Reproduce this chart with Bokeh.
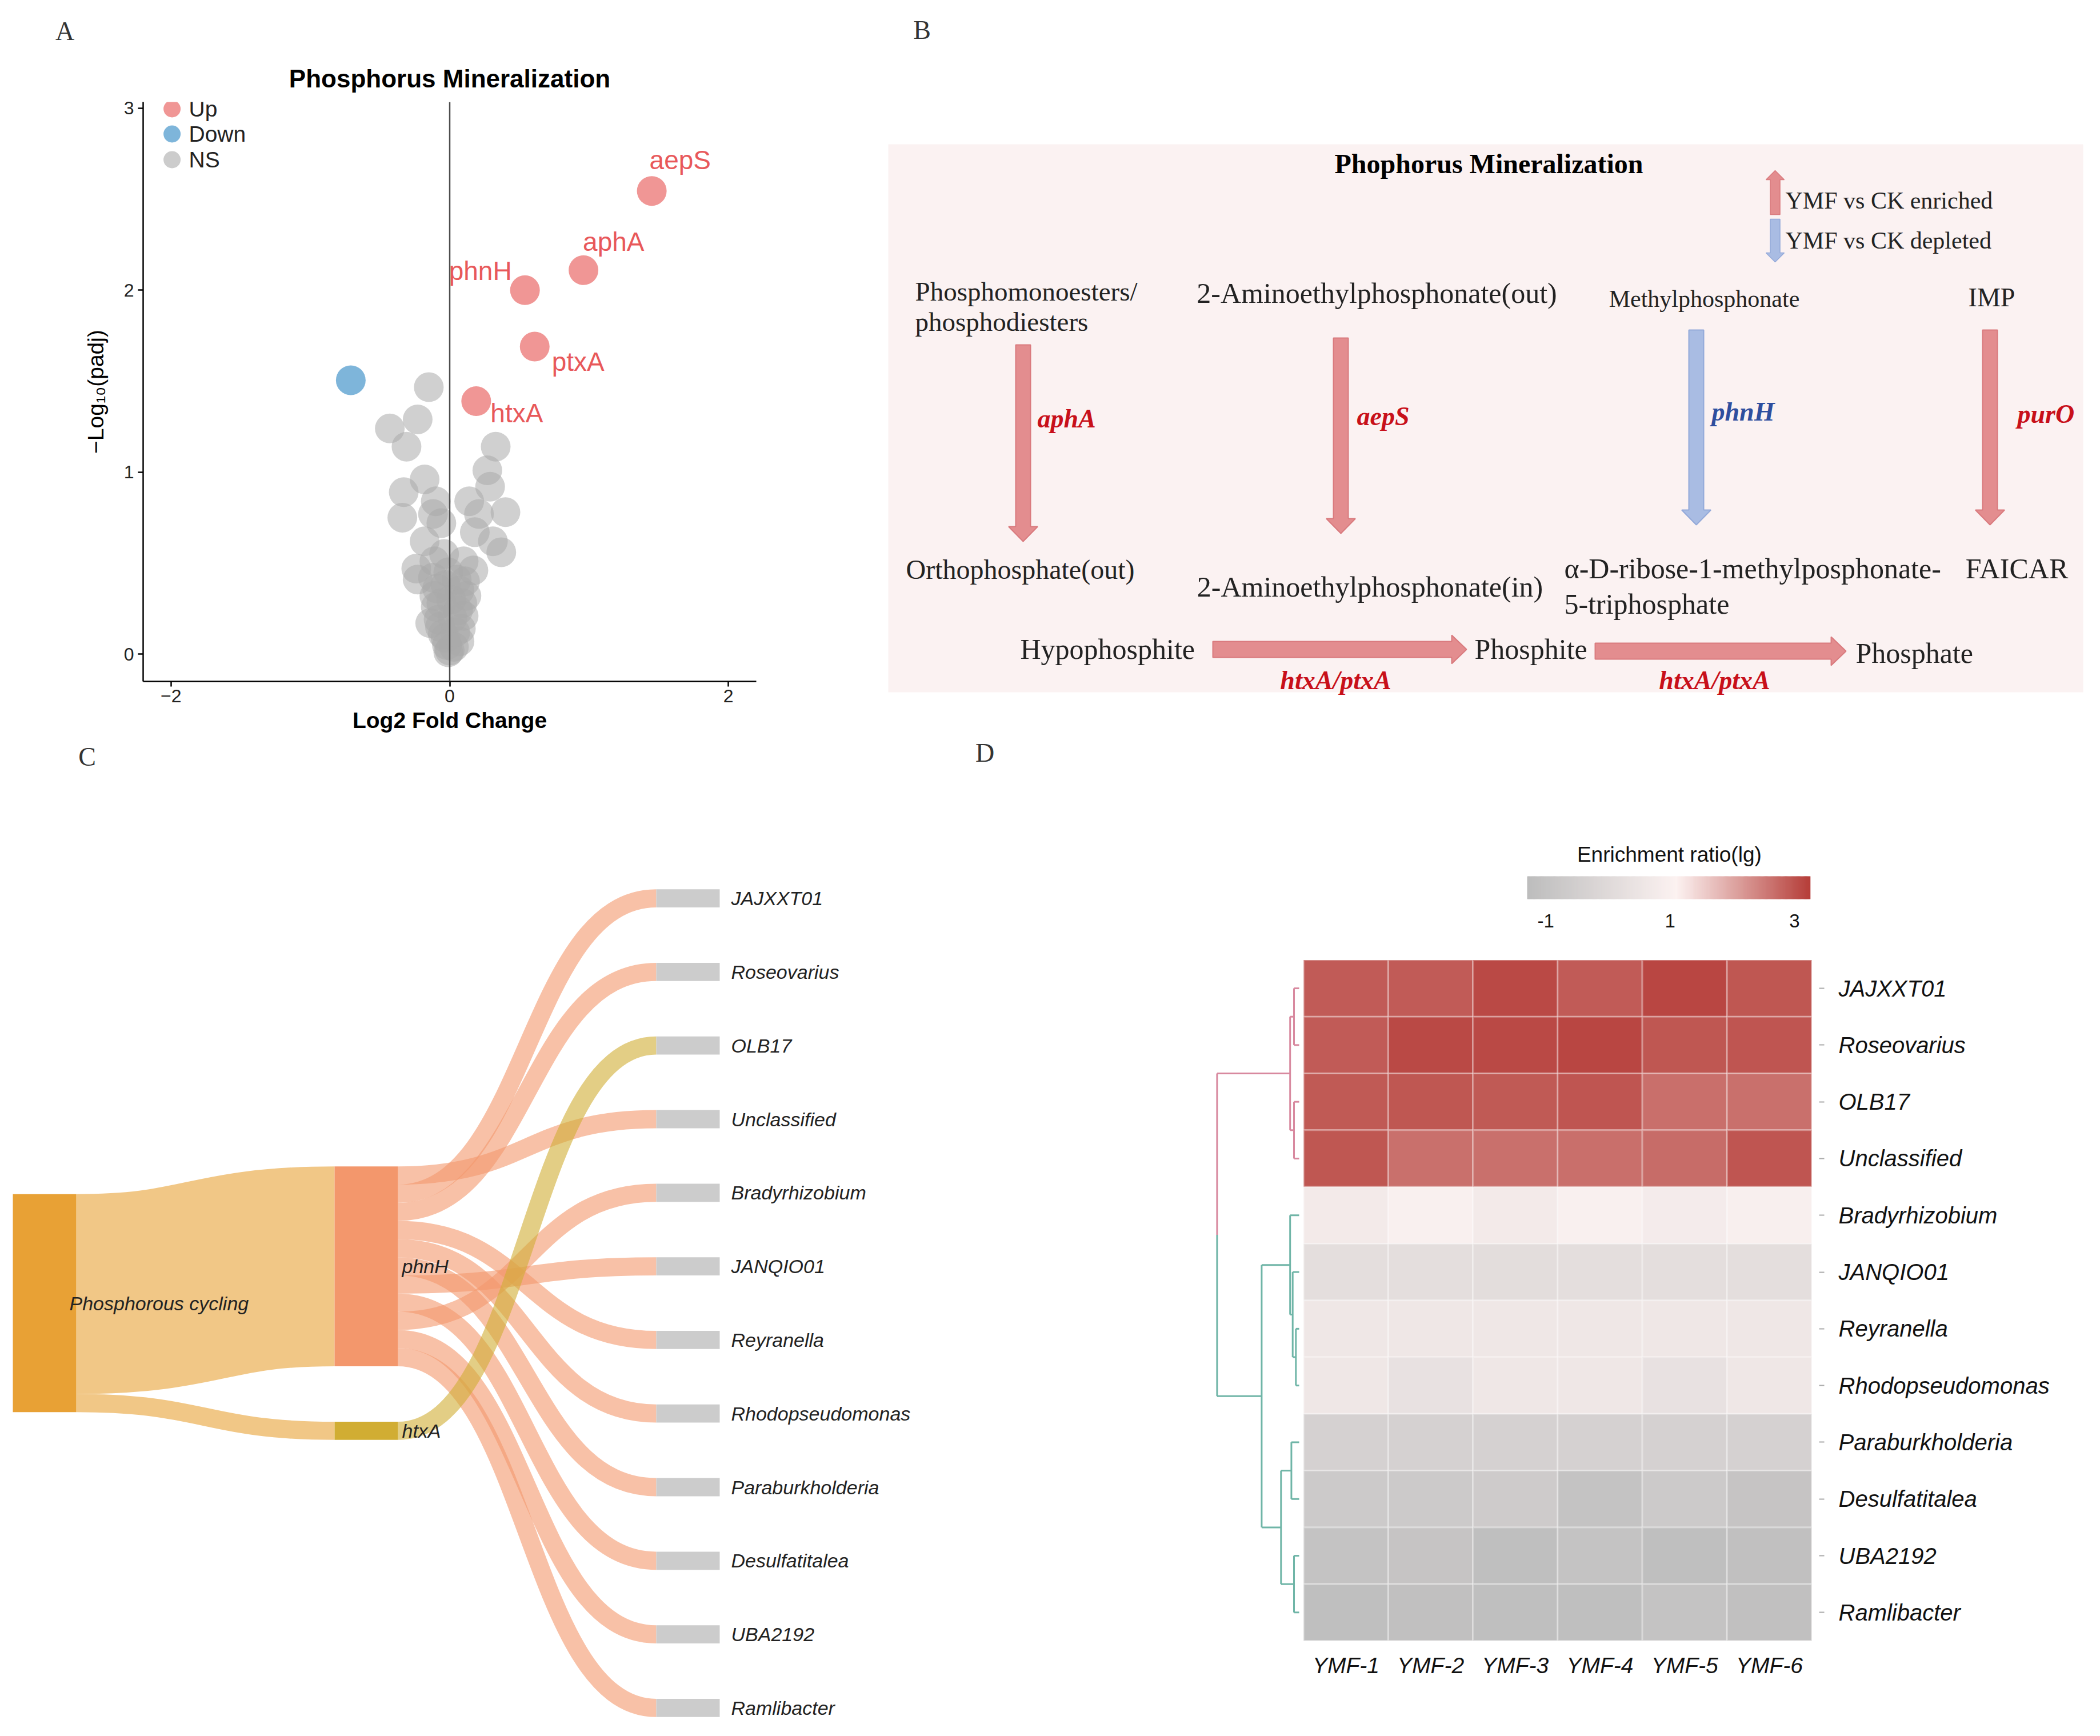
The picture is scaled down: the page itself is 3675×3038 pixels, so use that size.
import numpy as np
from collections import defaultdict
from bokeh.plotting import figure
from bokeh.models import Range1d, FixedTicker, Span, ColumnDataSource, LinearColorMapper
from bokeh.layouts import row, column
from bokeh.embed import file_html
from bokeh.resources import INLINE
from bokeh.core.properties import value
from bokeh.transform import transform

# ============================ DATA ============================
# ---- Panel A: volcano plot ----
up_genes = ["aepS", "aphA", "phnH", "ptxA", "htxA"]
up_log2fc = [1.45, 0.96, 0.54, 0.61, 0.19]
up_neglog_padj = [2.545, 2.11, 2.00, 1.69, 1.39]
down_log2fc = [-0.71]
down_neglog_padj = [1.505]
ns_log2fc = [-0.15, -0.23, -0.43, -0.31, 0.33, 0.27, 0.29, -0.18, -0.33, -0.10,
             0.14, -0.34, 0.40, -0.12, -0.06, 0.21, 0.18, -0.18, 0.31, 0.37,
             -0.24, 0.17, -0.23, -0.11, -0.04, 0.10, -0.12, -0.01, 0.07, 0.12,
             -0.11, -0.08, 0.10, -0.10, 0.08, -0.03, 0.03, -0.01, 0.07, -0.05,
             0.01, -0.03, 0.05, -0.07, 0.06, -0.14, 0.00, -0.02, 0.04, -0.06,
             0.09, 0.02, -0.09, 0.11]
ns_neglog_padj = [1.467, 1.29, 1.24, 1.14, 1.14, 1.01, 0.92, 0.96, 0.89, 0.84,
                  0.84, 0.75, 0.78, 0.77, 0.72, 0.77, 0.67, 0.62, 0.62, 0.56,
                  0.47, 0.46, 0.41, 0.51, 0.55, 0.51, 0.42, 0.45, 0.35, 0.32,
                  0.32, 0.19, 0.21, 0.26, 0.14, 0.09, 0.04, 0.01, 0.07, 0.11,
                  0.30, 0.38, 0.41, 0.15, 0.24, 0.17, 0.02, 0.05, 0.12, 0.28,
                  0.28, 0.20, 0.36, 0.40]
volcano_xticks = [-2, 0, 2]
volcano_yticks = [0, 1, 2, 3]
volcano_groups = ["Up", "Down", "NS"]
volcano_title = "Phosphorus Mineralization"

# ---- Panel B: pathway diagram ----
pathway_title = "Phophorus Mineralization"
legend_labels = ["YMF vs CK enriched", "YMF vs CK depleted"]
substrates = [["Phosphomonoesters/", "phosphodiesters"], ["2-Aminoethylphosphonate(out)"],
              ["Methylphosphonate"], ["IMP"]]
products = [["Orthophosphate(out)"], ["2-Aminoethylphosphonate(in)"],
            ["\u03b1-D-ribose-1-methylposphonate-", "5-triphosphate"], ["FAICAR"]]
step_genes = ["aphA", "aepS", "phnH", "purO"]
step_change = ["enriched", "enriched", "depleted", "enriched"]
oxidation_chain = ["Hypophosphite", "Phosphite", "Phosphate"]
oxidation_genes = ["htxA/ptxA", "htxA/ptxA"]

# ---- Panel C: sankey ----
sankey_source = ["Phosphorous cycling", "Phosphorous cycling",
                 "phnH", "phnH", "phnH", "phnH", "phnH", "phnH",
                 "phnH", "phnH", "phnH", "phnH", "phnH", "htxA"]
sankey_target = ["phnH", "htxA",
                 "Unclassified", "JAJXXT01", "Roseovarius", "Reyranella", "Rhodopseudomonas",
                 "Paraburkholderia", "JANQIO01", "Desulfatitalea", "Bradyrhizobium",
                 "UBA2192", "Ramlibacter", "OLB17"]
sankey_value = [11, 1, 1, 1, 1, 1, 1, 1, 1, 1, 1, 1, 1, 1]

# ---- Panel D: heatmap ----
taxa = ["JAJXXT01", "Roseovarius", "OLB17", "Unclassified", "Bradyrhizobium", "JANQIO01",
        "Reyranella", "Rhodopseudomonas", "Paraburkholderia", "Desulfatitalea", "UBA2192",
        "Ramlibacter"]
samples = ["YMF-1", "YMF-2", "YMF-3", "YMF-4", "YMF-5", "YMF-6"]
ymf1 = [2.90, 2.90, 2.92, 2.95, 0.75, 0.20, 0.60, 0.60, -0.38, -0.70, -1.00, -1.20]
ymf2 = [2.90, 3.12, 2.95, 2.65, 1.00, 0.20, 0.60, 0.35, -0.38, -0.70, -0.95, -1.15]
ymf3 = [3.12, 3.12, 2.92, 2.65, 0.75, 0.15, 0.60, 0.60, -0.38, -0.65, -1.20, -1.20]
ymf4 = [2.90, 3.15, 2.98, 2.68, 1.00, 0.20, 0.60, 0.60, -0.38, -1.00, -1.00, -1.20]
ymf5 = [3.15, 2.95, 2.68, 2.70, 0.80, 0.20, 0.60, 0.35, -0.38, -0.70, -1.20, -1.00]
ymf6 = [2.95, 2.98, 2.65, 2.98, 0.95, 0.20, 0.60, 0.60, -0.38, -0.95, -1.15, -1.15]
heat_columns = [ymf1, ymf2, ymf3, ymf4, ymf5, ymf6]
# hierarchical clustering of rows: (left, right, merge height)
dendro_merges = [("JAJXXT01", "Roseovarius", 0.90), ("OLB17", "Unclassified", 0.90),
                 ("c0", "c1", 1.58), ("Reyranella", "Rhodopseudomonas", 0.57),
                 ("JANQIO01", "c3", 1.13), ("Bradyrhizobium", "c4", 1.58),
                 ("Paraburkholderia", "Desulfatitalea", 1.36), ("UBA2192", "Ramlibacter", 0.90),
                 ("c6", "c7", 3.17), ("c5", "c8", 6.56), ("c2", "c9", 14.36)]
colorbar_ticks = [-1, 1, 3]
colorbar_title = "Enrichment  ratio(lg)"

# ============================ LAYOUT / STYLE ============================
OX, OY = 0, 0
W_A, W_B, H_TOP = 1545, 2114, 1290
W_C, W_D, H_BOT = 1700, 1959, 1732
SANS, SERIF = "Liberation Sans", "Liberation Serif"
INK = "#222222"


def fig(w, h, xr, yr, **kw):
    p = figure(width=w, height=h, x_range=xr, y_range=yr, output_backend="svg",
               toolbar_location=None, **kw)
    p.outline_line_color = None
    p.xgrid.visible = False
    p.ygrid.visible = False
    p.background_fill_color = "white"
    p.border_fill_color = "white"
    try:
        p.frame_align = False
    except Exception:
        pass
    return p


def txt(p, x, y, s, size, font=SANS, style="normal", color=INK, align="left"):
    p.text(x=[x], y=[y], text=[s], text_font=value(font), text_font_size=f"{size}px",
           text_font_style=style, text_color=color, text_align=align, text_baseline="middle")


# ---------------------------- Panel A ----------------------------
HA_H = 165
hA = fig(W_A, HA_H, Range1d(OX, OX + W_A), Range1d(OY + HA_H, OY),
         x_axis_location=None, y_axis_location=None, min_border=0)

A_FL, A_FR, A_FT, A_FB = 250, 1323, 178, 1192   # frame edges (page px)
A_L = A_FL - OX
A_R = OX + W_A - A_FR
A_T = A_FT - (OY + HA_H)
A_B = OY + H_TOP - A_FB
XA = (-2.2, 2.2)
YA = (-0.15, 3.034)
pA = fig(W_A, H_TOP - HA_H, Range1d(*XA), Range1d(*YA), min_border_left=A_L, min_border_right=A_R,
         min_border_top=A_T, min_border_bottom=A_B)
SXA = (A_FR - A_FL) / (XA[1] - XA[0])
SYA = (A_FB - A_FT) / (YA[1] - YA[0])


def ax_(px):
    return XA[0] + (px - A_FL) / SXA


def ay_(py):
    return YA[1] - (py - A_FT) / SYA


pA.xaxis.ticker = FixedTicker(ticks=volcano_xticks)
pA.xaxis.major_label_overrides = {t: (str(t) if t >= 0 else "\u2212" + str(-t)) for t in volcano_xticks}
pA.yaxis.ticker = FixedTicker(ticks=volcano_yticks)
for axis in (pA.xaxis[0], pA.yaxis[0]):
    axis.axis_line_color = "black"
    axis.axis_line_width = 2.5
    axis.major_tick_line_color = "black"
    axis.major_tick_line_width = 2.5
    axis.major_tick_out = 9
    axis.major_tick_in = 0
    axis.minor_tick_line_color = None
    axis.major_label_text_font = SANS
    axis.major_label_text_font_size = "32px"
    axis.major_label_text_color = INK
    axis.axis_label_text_font = SANS
    axis.axis_label_text_font_size = "39px"
    axis.axis_label_text_color = "black"
pA.xaxis.axis_label = "Log2 Fold Change"
pA.xaxis.axis_label_text_font_style = "bold"
pA.xaxis.major_label_standoff = 5
pA.xaxis.axis_label_standoff = 7
pA.yaxis.axis_label = "\u2212Log\u2081\u2080(padj)"
pA.yaxis.axis_label_text_font_style = "normal"
pA.yaxis.major_label_standoff = 7
pA.yaxis.axis_label_standoff = 25

pA.add_layout(Span(location=0, dimension="height", line_color="#4D4D4D", line_width=2.5))
pA.scatter(ns_log2fc, ns_neglog_padj, size=52, fill_color="#A9A9A9", fill_alpha=0.55, line_color=None)
pA.scatter(up_log2fc, up_neglog_padj, size=52, fill_color="#F09695", line_color=None)
pA.scatter(down_log2fc, down_neglog_padj, size=52, fill_color="#7EB5DA", line_color=None)

label_offsets_px = {"aepS": (-4, -54), "aphA": (-1, -50), "phnH": (-133, -34),
                    "ptxA": (30, 26), "htxA": (25, 21)}
lab_x = [x + label_offsets_px[g][0] / SXA for g, x in zip(up_genes, up_log2fc)]
lab_y = [y - label_offsets_px[g][1] / SYA for g, y in zip(up_genes, up_neglog_padj)]
pA.text(x=lab_x, y=lab_y, text=up_genes, text_font=value(SANS), text_font_size="46px",
        text_color="#E8585A", text_align="left", text_baseline="middle")

leg_y = [ay_(py) for py in (190, 234, 279)]
pA.scatter([ax_(300.6)] * 3, leg_y, size=30, fill_color=["#F09695", "#7EB5DA", "#CCCCCC"], line_color=None)
pA.text(x=[ax_(330)] * 3, y=leg_y, text=volcano_groups, text_font=value(SANS), text_font_size="39px",
        text_color=INK, text_align="left", text_baseline="middle")

txt(hA, 113, 54, "A", 46, font=SERIF, color="#333333", align="center")
txt(hA, (A_FL + A_FR) / 2, 137, volcano_title, 44, style="bold", color="black", align="center")

# ---------------------------- Panel B ----------------------------
xB0 = OX + W_A
pB = fig(W_B, H_TOP, Range1d(xB0, xB0 + W_B), Range1d(OY + H_TOP, OY),
         x_axis_location=None, y_axis_location=None, min_border=0)
pB.quad(left=[1554], right=[3645], top=[252], bottom=[1211], fill_color="#FBF2F2", line_color=None)

RED_FILL, RED_LINE = "#E38D8F", "#D97A7E"
BLUE_FILL, BLUE_LINE = "#A9BCE3", "#93A9D9"
GENE_RED, GENE_BLUE = "#C8101A", "#2E4E9E"


def v_arrow(x, y0, y1, sw, hw, hl):
    d = 1 if y1 > y0 else -1
    yb = y1 - d * hl
    return ([x - sw / 2, x + sw / 2, x + sw / 2, x + hw / 2, x, x - hw / 2, x - sw / 2],
            [y0, y0, yb, yb, y1, yb, yb])


def h_arrow(x0, x1, y, sw, hw, hl):
    xb = x1 - hl
    return ([x0, xb, xb, x1, xb, xb, x0],
            [y - sw / 2, y - sw / 2, y - hw / 2, y, y + hw / 2, y + sw / 2, y + sw / 2])


txt(pB, 1613, 52, "B", 46, font=SERIF, color="#333333", align="center")
txt(pB, 2605, 286, pathway_title, 48, font=SERIF, style="bold", color="black", align="center")

lx, ly = v_arrow(3106, 375, 298, 17, 32, 16)
pB.patch(lx, ly, fill_color=RED_FILL, line_color=RED_LINE, line_width=1.5)
lx, ly = v_arrow(3106, 383, 458, 17, 32, 16)
pB.patch(lx, ly, fill_color=BLUE_FILL, line_color=BLUE_LINE, line_width=1.5)
txt(pB, 3124, 350, legend_labels[0], 42, font=SERIF)
txt(pB, 3124, 420, legend_labels[1], 42, font=SERIF)

sub_pos = [(1601, "left", [509, 562], 47), (2409, "center", [512], 50),
           (2982, "center", [522], 42), (3485, "center", [520], 46)]
prod_pos = [(1785, "center", [996], 48), (2397, "center", [1026], 50),
            (2737, "left", [994, 1056], 50), (3529, "center", [994], 50)]
arrow_pos = [(1790, 603, 947), (2346, 591, 933), (2968, 577, 918), (3482, 577, 918)]
gene_pos = [(1815, 732), (2374, 728), (2995, 720), (3530, 724)]

for lines, (x, al, ys, fs) in zip(substrates, sub_pos):
    for s, y in zip(lines, ys):
        txt(pB, x, y, s, fs, font=SERIF, align=al)
for lines, (x, al, ys, fs) in zip(products, prod_pos):
    for s, y in zip(lines, ys):
        txt(pB, x, y, s, fs, font=SERIF, align=al)
for g, ch, (x, y0, y1), (gx, gy) in zip(step_genes, step_change, arrow_pos, gene_pos):
    axs, ays = v_arrow(x, y0, y1, 26, 51, 26)
    up = ch == "enriched"
    pB.patch(axs, ays, fill_color=RED_FILL if up else BLUE_FILL,
             line_color=RED_LINE if up else BLUE_LINE, line_width=2)
    txt(pB, gx, gy, g, 46, font=SERIF, style="bold italic", color=GENE_RED if up else GENE_BLUE)

chain_pos = [(1785, 1135), (2580, 1135), (3247, 1142)]
chain_arrows = [(2122, 2566, 1136), (2791, 3230, 1139)]
chain_gene_pos = [(2337, 1190), (3000, 1190)]
for s, (x, y) in zip(oxidation_chain, chain_pos):
    txt(pB, x, y, s, 50, font=SERIF)
for g, (x0, x1, y), (gx, gy) in zip(oxidation_genes, chain_arrows, chain_gene_pos):
    axs, ays = h_arrow(x0, x1, y, 28, 50, 26)
    pB.patch(axs, ays, fill_color=RED_FILL, line_color=RED_LINE, line_width=2)
    txt(pB, gx, gy, g, 46, font=SERIF, style="bold italic", color=GENE_RED, align="center")

# ---------------------------- Panel C ----------------------------
yC0 = OY + H_TOP
pC = fig(W_C, H_BOT, Range1d(OX, OX + W_C), Range1d(yC0 + H_BOT, yC0),
         x_axis_location=None, y_axis_location=None, min_border=0)
txt(pC, 152, 1324, "C", 46, font=SERIF, color="#333333", align="center")

node_color = {"Phosphorous cycling": "#E8A135", "phnH": "#F3976C", "htxA": "#D1AD33"}
inflow, outflow = defaultdict(float), defaultdict(float)
for s, t, v in zip(sankey_source, sankey_target, sankey_value):
    outflow[s] += v
    inflow[t] += v
cols = [["Phosphorous cycling"], ["phnH", "htxA"], taxa]
K, PAD, CY, NW = 31.8, 97, 2280, 111
COL_X = [22, 585, 1148]
LABEL_DX = [-12, 7, 20]
pos = {}
for ci, col in enumerate(cols):
    vals = [max(inflow[n], outflow[n]) for n in col]
    total = sum(vals) * K + (len(col) - 1) * PAD
    y = CY - total / 2
    for n, v in zip(col, vals):
        pos[n] = (ci, COL_X[ci], y, y + v * K)
        y += v * K + PAD

s_off, t_off = defaultdict(float), defaultdict(float)
lk = dict(x0=[], y0=[], x1=[], y1=[], cx0=[], cy0=[], cx1=[], cy1=[], w=[], c=[])
for s, t, v in zip(sankey_source, sankey_target, sankey_value):
    w = v * K
    x0 = pos[s][1] + NW
    x1 = pos[t][1]
    y0 = pos[s][2] + s_off[s] + w / 2
    y1 = pos[t][2] + t_off[t] + w / 2
    s_off[s] += w
    t_off[t] += w
    xm = (x0 + x1) / 2
    for key, val in zip(["x0", "y0", "x1", "y1", "cx0", "cy0", "cx1", "cy1", "w", "c"],
                        [x0, y0, x1, y1, xm, y0, xm, y1, w, node_color[s]]):
        lk[key].append(val)
pC.bezier(x0="x0", y0="y0", x1="x1", y1="y1", cx0="cx0", cy0="cy0", cx1="cx1", cy1="cy1",
          line_width="w", line_color="c", line_alpha=0.6, source=ColumnDataSource(lk))

nd = dict(l=[], r=[], t=[], b=[], c=[], lx=[], ly=[], name=[])
for n, (ci, x, y0, y1) in pos.items():
    nd["l"].append(x)
    nd["r"].append(x + NW)
    nd["t"].append(y0)
    nd["b"].append(y1)
    nd["c"].append(node_color.get(n, "#CCCCCC"))
    nd["lx"].append(x + NW + LABEL_DX[ci])
    nd["ly"].append((y0 + y1) / 2)
    nd["name"].append(n)
srcN = ColumnDataSource(nd)
pC.quad(left="l", right="r", top="t", bottom="b", fill_color="c", line_color=None, source=srcN)
pC.text(x="lx", y="ly", text="name", text_font=value(SANS), text_font_size="34px",
        text_font_style="italic", text_color=INK, text_align="left", text_baseline="middle", source=srcN)

# ---------------------------- Panel D ----------------------------
CW, RH = 148.2, 99.3
D_FR, D_FB = 3183, 2871          # frame right / bottom (page px)
xD0 = OX + W_C
D_R = xD0 + W_D - D_FR
D_Bm = yC0 + H_BOT - D_FB
fwD, fhD = W_D - D_R, H_BOT - D_Bm
XD1 = len(samples) + 13 / CW
XD0 = XD1 - fwD / CW
YD_top = len(taxa) - fhD / RH
pD = fig(W_D, H_BOT, Range1d(XD0, XD1), Range1d(len(taxa), YD_top), x_axis_location="below",
         y_axis_location="right", min_border_left=0, min_border_top=0,
         min_border_right=D_R, min_border_bottom=D_Bm)


def dx_(px):
    return XD1 - (D_FR - px) / CW


def dy_(py):
    return len(taxa) - (D_FB - py) / RH


CB_LOW, CB_HIGH = -1.3, 3.25
stops_v = [CB_LOW, 1.1, CB_HIGH]
stops_c = [(189, 189, 189), (252, 242, 241), (182, 63, 58)]
pal_v = np.linspace(CB_LOW, CB_HIGH, 256)
palette = []
for v in pal_v:
    rgb = [np.interp(v, stops_v, [c[i] for c in stops_c]) for i in range(3)]
    palette.append("#%02x%02x%02x" % tuple(int(round(c)) for c in rgb))
mapper = LinearColorMapper(palette=palette, low=CB_LOW, high=CB_HIGH)

hx, hy, hv = [], [], []
for j, colvals in enumerate(heat_columns):
    for i, v in enumerate(colvals):
        hx.append(j + 0.5)
        hy.append(i + 0.5)
        hv.append(v)
pD.rect(x="x", y="y", width=1, height=1, source=ColumnDataSource(dict(x=hx, y=hy, v=hv)),
        fill_color=transform("v", mapper), line_color="white", line_alpha=0.3, line_width=3)

# dendrogram
DEND_PX = 10.0
leaf_x = dx_(2273)


def hxpos(h):
    return leaf_x - h * DEND_PX / CW


node_y = {t: i + 0.5 for i, t in enumerate(taxa)}
node_h = {t: 0.0 for t in taxa}
node_leaves = {t: {t} for t in taxa}
top_group = set(taxa[:4])
PINK, TEAL = "#D8899F", "#6FB5A7"
sg = dict(x0=[], y0=[], x1=[], y1=[], c=[])


def add_seg(x0, y0, x1, y1, c):
    sg["x0"].append(x0)
    sg["y0"].append(y0)
    sg["x1"].append(x1)
    sg["y1"].append(y1)
    sg["c"].append(c)


for k, (a, b, h) in enumerate(dendro_merges):
    name = f"c{k}"
    node_y[name] = (node_y[a] + node_y[b]) / 2
    node_h[name] = h
    node_leaves[name] = node_leaves[a] | node_leaves[b]
    xh = hxpos(h)
    is_root = k == len(dendro_merges) - 1
    for ch in (a, b):
        cc = PINK if node_leaves[ch] <= top_group else TEAL
        add_seg(xh, node_y[ch], hxpos(node_h[ch]), node_y[ch], cc)
    if is_root:
        mid = node_y[name]
        add_seg(xh, node_y[a], xh, mid, PINK if node_leaves[a] <= top_group else TEAL)
        add_seg(xh, mid, xh, node_y[b], PINK if node_leaves[b] <= top_group else TEAL)
    else:
        cc = PINK if node_leaves[name] <= top_group else TEAL
        add_seg(xh, node_y[a], xh, node_y[b], cc)
pD.segment(x0="x0", y0="y0", x1="x1", y1="y1", line_color="c", line_width=3,
           source=ColumnDataSource(sg))

# colour bar
CB_X0, CB_X1, CB_T, CB_B = 2672, 3167, 1533, 1573
cb_v = np.linspace(CB_LOW, CB_HIGH, 240)
step = (CB_X1 - CB_X0) / len(cb_v)
cb_l = [dx_(CB_X0 + i * step) for i in range(len(cb_v))]
cb_r = [dx_(CB_X0 + (i + 1) * step + 0.8) for i in range(len(cb_v))]
pD.quad(left="l", right="r", top=dy_(CB_T), bottom=dy_(CB_B),
        source=ColumnDataSource(dict(l=cb_l, r=cb_r, v=cb_v)),
        fill_color=transform("v", mapper), line_color=None)
cb_tx = [dx_(CB_X0 + (t - CB_LOW) / (CB_HIGH - CB_LOW) * (CB_X1 - CB_X0)) for t in colorbar_ticks]
pD.text(x=cb_tx, y=[dy_(1611)] * len(cb_tx), text=[str(t) for t in colorbar_ticks],
        text_font=value(SANS), text_font_size="33px", text_color="#111111",
        text_align="center", text_baseline="middle")
txt(pD, dx_(2926), dy_(1495), colorbar_title, 37, color="#111111", align="center")
txt(pD, dx_(1723), dy_(1317), "D", 46, font=SERIF, color="#333333", align="center")

ry = pD.yaxis[0]
ry.ticker = FixedTicker(ticks=[i + 0.5 for i in range(len(taxa))])
ry.major_label_overrides = {i + 0.5: t for i, t in enumerate(taxa)}
ry.axis_line_color = None
ry.major_tick_line_color = "#AAAAAA"
ry.major_tick_line_width = 2
ry.major_tick_out = 9
ry.major_tick_in = 0
ry.minor_tick_line_color = None
ry.major_label_standoff = 25
ry.major_label_text_font = SANS
ry.major_label_text_font_style = "italic"
ry.major_label_text_font_size = "40px"
ry.major_label_text_color = "#111111"

bx = pD.xaxis[0]
bx.ticker = FixedTicker(ticks=[j + 0.5 for j in range(len(samples))])
bx.major_label_overrides = {j + 0.5: s for j, s in enumerate(samples)}
bx.axis_line_color = None
bx.major_tick_line_color = None
bx.minor_tick_line_color = None
bx.major_label_standoff = 15
bx.major_label_text_font = SANS
bx.major_label_text_font_style = "italic"
bx.major_label_text_font_size = "39px"
bx.major_label_text_color = "#111111"

layout = column(row(column(hA, pA), pB), row(pC, pD))
open("out.html", "w").write(file_html(layout, INLINE))
